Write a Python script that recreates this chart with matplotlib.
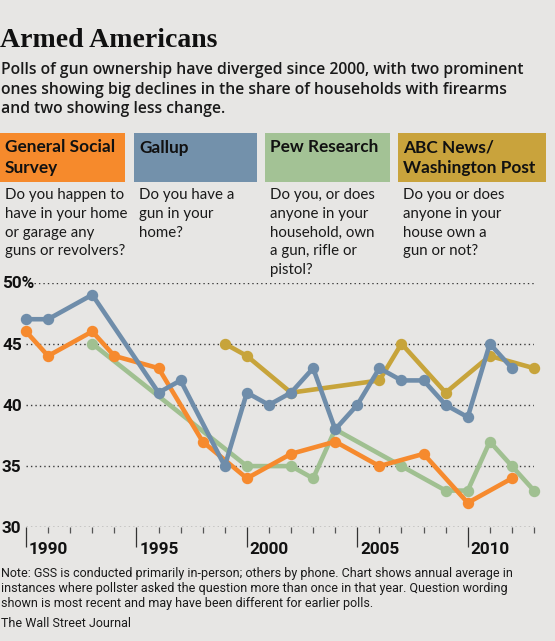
import matplotlib
matplotlib.use('Agg')
import matplotlib.pyplot as plt
from matplotlib.patches import Rectangle

# share of households with a gun (%)
gss_years = [1990, 1991, 1993, 1994, 1996, 1998, 2000, 2002, 2004, 2006, 2008, 2010, 2012]
gss_values = [46, 44, 46, 44, 43, 37, 34, 36, 37, 35, 36, 32, 34]

gallup_years = [1990, 1991, 1993, 1996, 1997, 1999, 2000, 2001, 2002, 2003, 2004,
                2005, 2006, 2007, 2008, 2009, 2010, 2011, 2012]
gallup_values = [47, 47, 49, 41, 42, 35, 41, 40, 41, 43, 38, 40, 43, 42, 42, 40, 39, 45, 43]

pew_years = [1993, 2000, 2002, 2003, 2004, 2007, 2009, 2010, 2011, 2012, 2013]
pew_values = [45, 35, 35, 34, 38, 35, 33, 33, 37, 35, 33]

abc_years = [1999, 2000, 2002, 2006, 2007, 2009, 2011, 2013]
abc_values = [45, 44, 41, 42, 45, 41, 44, 43]

pollsters = ['General Social\nSurvey', 'Gallup', 'Pew Research', 'ABC News/\nWashington Post']
questions = [
    'Do you happen to\nhave in your home\nor garage any\nguns or revolvers?',
    'Do you have a\ngun in your\nhome?',
    'Do you, or does\nanyone in your\nhousehold, own\na gun, rifle or\npistol?',
    'Do you or does\nanyone in your\nhouse own a\ngun or not?',
]
y_ticks = [30, 35, 40, 45, 50]
y_tick_labels = ['30', '35', '40', '45', '50%']
year_labels = [1990, 1995, 2000, 2005, 2010]
first_year, last_year = 1990, 2013

title = 'Armed Americans'
subtitle = ['Polls of gun ownership have diverged since 2000, with two prominent',
            'ones showing big declines in the share of households with firearms',
            'and two showing less change.']
note = ['Note: GSS is conducted primarily in-person; others by phone. Chart shows annual average in',
        'instances where pollster asked the question more than once in that year. Question wording',
        'shown is most recent and may have been different for earlier polls.']
source = 'The Wall Street Journal'

# colours
bg_color = '#E7E6E4'
orange = '#F68A2E'
blue = '#6F8DAA'
green = '#A0C091'
gold = '#C7A43B'
box_colors = ['#F68A2C', '#7391AB', '#A3C295', '#C9A33C']

text_font = ['Lato', 'DejaVu Sans']
deck_font = ['Open Sans', 'Lato', 'DejaVu Sans']
narrow_font = ['Liberation Sans Narrow', 'Roboto', 'DejaVu Sans']

W, H = 555, 641
fig = plt.figure(figsize=(W / 100, H / 100), dpi=100, facecolor=bg_color)

# background axes in pixel coordinates for the text blocks
bg = fig.add_axes([0, 0, 1, 1])
bg.set_xlim(0, W)
bg.set_ylim(H, 0)
bg.axis('off')

bg.text(0, 46.7, title, family=['Liberation Serif', 'DejaVu Serif'], weight='bold',
        fontsize=20, va='baseline', color='#111111')
for i, line in enumerate(subtitle):
    bg.text(1, 74 + i * 19.6, line, family=deck_font, weight='semibold', fontsize=11.35,
            va='baseline', color='#1a1a1a')

# pollster header boxes and questions
box_left = [0, 134, 265, 398]
box_width = [125, 123, 125, 148]
for left, width, color, name, q in zip(box_left, box_width, box_colors, pollsters, questions):
    bg.add_patch(Rectangle((left, 133.3), width, 49, facecolor=color, edgecolor='none'))
    for j, line in enumerate(name.split('\n')):
        bg.text(left + 5, 152.5 + j * 20.5, line, family=text_font, weight='bold',
                fontsize=12.4, va='baseline', color='#111111')
    for j, line in enumerate(q.split('\n')):
        bg.text(left + 5, 199 + j * 18.8, line, family=text_font, fontsize=10.8,
                va='baseline', color='#1a1a1a')

for i, line in enumerate(note):
    bg.text(1, 577 + i * 15.2, line, family=narrow_font, fontsize=9.0,
            va='baseline', color='#1a1a1a')
bg.text(1, 627.3, source, family=narrow_font, fontsize=9.0, va='baseline', color='#1a1a1a')

# chart axes: 1990 at x=26px, 2013 at x=534px, 30 at y=527.3px, 50 at y=282.5px
ax = fig.add_axes([26 / W, (H - 527.3) / H, 508 / W, (527.3 - 282.5) / H])
ax.set_facecolor('none')
ax.set_xlim(first_year, last_year)
ax.set_ylim(30, 50)
for s in ax.spines.values():
    s.set_visible(False)

for v in y_ticks:
    start = first_year + 0.35 if v == 50 else first_year
    ax.hlines(v, start, last_year, colors='#3a3a3a', linestyles=(0, (1, 2.2)), linewidth=1.0)

ax.set_yticks([])
ax.set_xticks(year_labels)
ax.set_xticks(range(first_year, last_year + 1), minor=True)
ax.set_xticklabels([])
ax.tick_params(axis='x', which='major', length=14.5, width=0.9, color='#333333', direction='out')
ax.tick_params(axis='x', which='minor', length=4, width=0.9, color='#555555', direction='out')

for v, lab in zip(y_ticks, y_tick_labels):
    ax.annotate(lab, xy=(0, v), xycoords=ax.get_yaxis_transform(), xytext=(-24, -6),
                textcoords='offset pixels', ha='left', va='baseline', family=narrow_font,
                weight='bold', fontsize=12.3, color='#111111')
for yr in year_labels:
    ax.annotate(str(yr), xy=(yr, 0), xycoords=ax.get_xaxis_transform(), xytext=(3, -27),
                textcoords='offset pixels', ha='left', va='baseline', family=narrow_font,
                weight='bold', fontsize=12.3, color='#111111')

series = [
    (pew_years, pew_values, green),
    (abc_years, abc_values, gold),
    (gss_years, gss_values, orange),
    (gallup_years, gallup_values, blue),
]
for k, (xs, ys, c) in enumerate(series):
    ax.plot(xs, ys, color=c, linewidth=3.3, marker='o', markersize=7.2,
            solid_joinstyle='round', clip_on=False, zorder=3 + k)

fig.savefig('out.png', dpi=100, facecolor=bg_color)
